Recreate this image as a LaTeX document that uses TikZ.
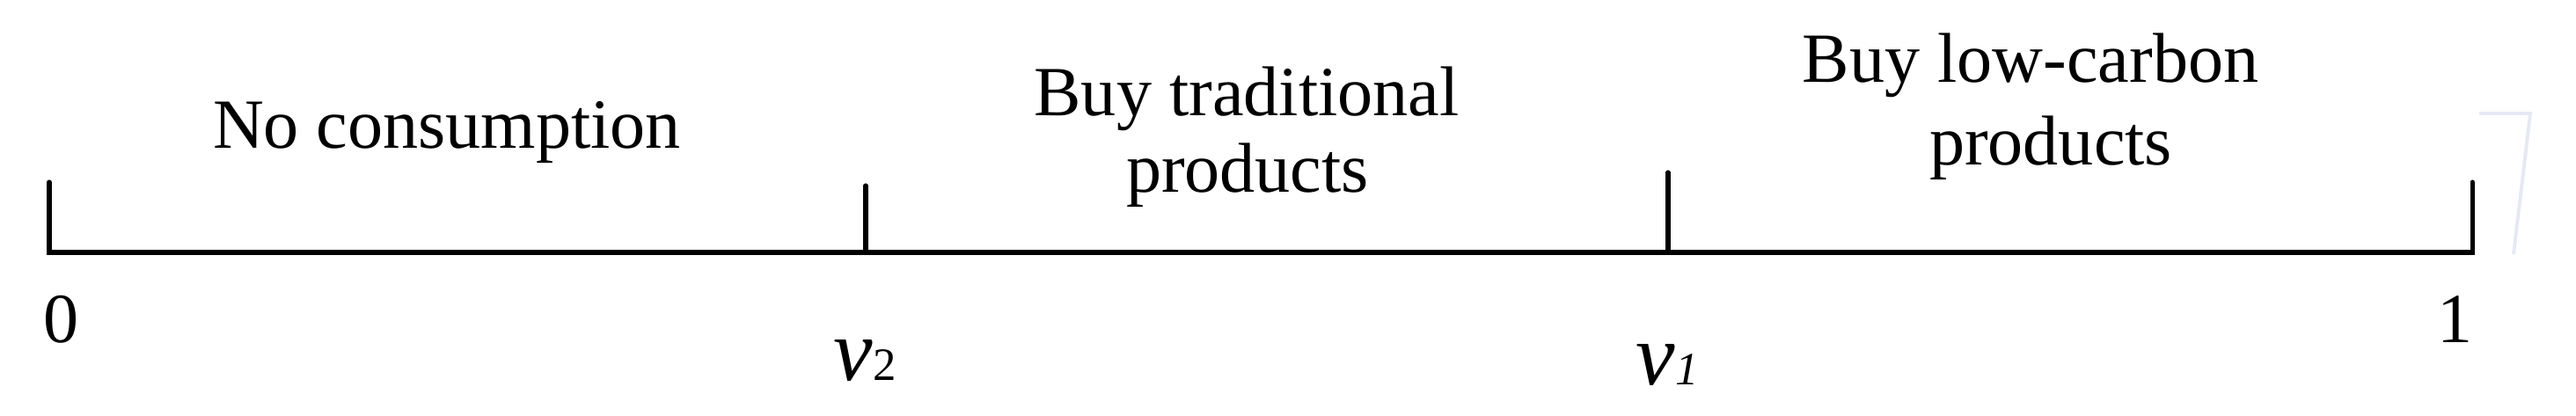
\documentclass[tikz,border=0pt]{standalone}
\usepackage{fontspec}
\setmainfont{Liberation Serif}
\begin{document}
\begin{tikzpicture}[
  axisline/.style={line width=1.45pt, line join=miter, line cap=round},
  lbl/.style={inner sep=0pt, anchor=base, font=\fontsize{22.8}{25.6}\selectfont},
  varlbl/.style={inner sep=0pt, anchor=base, font=\fontsize{28.5}{30}\selectfont},
  faint/.style={draw={rgb,255:red,230;green,233;blue,243}, line width=1.1pt}
]
\useasboundingbox (0,0) rectangle (29.28,4.72);
% coordinates on the axis
\coordinate (p0) at (0.56,1.85);
\coordinate (p0t) at (0.56,2.65);
\coordinate (p2) at (9.84,1.85);
\coordinate (p2t) at (9.84,2.61);
\coordinate (p1) at (18.96,1.85);
\coordinate (p1t) at (18.96,2.76);
\coordinate (pe) at (28.10,1.85);
\coordinate (pet) at (28.10,2.65);
% axis
\draw[axisline] (p0t) -- (p0) -- (pe) -- (pet);
\draw[axisline] (p2) -- (p2t);
\draw[axisline] (p1) -- (p1t);
% faint mark at right
\coordinate (f1) at (28.18,3.43);
\coordinate (f2) at (28.76,3.43);
\coordinate (f3) at (28.57,1.83);
\draw[faint] (f1) -- (f2) -- (f3);
% tick labels
\node[lbl] (l0) at (0.70,0.83) {0};
\node[lbl] (l1) at (27.90,0.83) {1};
\node[varlbl] (lv2) at (9.83,0.40) {\itshape v\/\upshape{\fontsize{15}{15}\selectfont 2}};
\node[varlbl] (lv1) at (18.95,0.35) {\itshape v{\fontsize{15}{15}\selectfont 1}};
% region labels
\node[lbl] (nc) at (5.08,3.04) {No consumption};
\node[lbl] (bt1) at (14.17,3.41) {Buy traditional};
\node[lbl] (bt2) at (14.18,2.54) {products};
\node[lbl] (bl1) at (23.08,3.79) {Buy low-carbon};
\node[lbl] (bl2) at (23.31,2.85) {products};
\end{tikzpicture}
\end{document}
